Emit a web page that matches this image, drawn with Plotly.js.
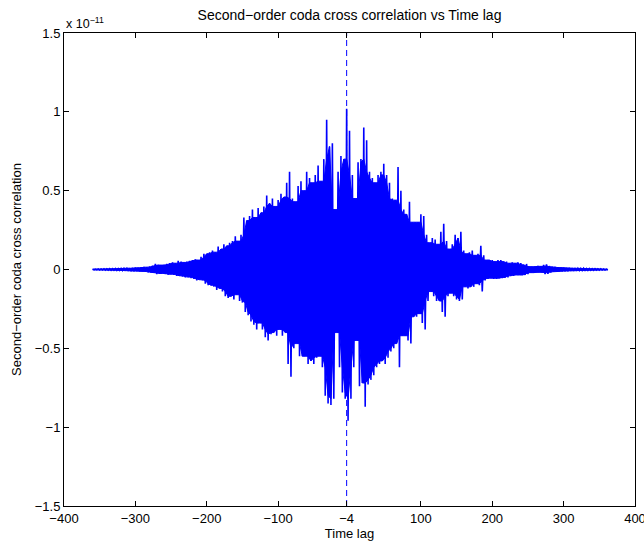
<!DOCTYPE html>
<html>
<head>
<meta charset="utf-8">
<script src="https://cdn.plot.ly/plotly-3.0.1.min.js"></script>
<style>html,body{margin:0;padding:0;background:#fff;}#chart{width:644px;height:542px;}</style>
</head>
<body>
<div id="chart"></div>
<script>
// Time lags of the envelope readings (every 4 lag units, -360 .. 360)
const lagStart = -360;
const lagStep = 4;
// Positive peaks (units of 1e-11)
const upperPeaks = [
  0.002,0.002,0.003,0.003,0.004,0.004,0.005,0.005,0.006,0.006,
  0.007,0.008,0.010,0.008,0.010,0.012,0.011,0.014,0.016,0.015,
  0.020,0.025,0.035,0.030,0.028,0.030,0.035,0.040,0.045,0.040,
  0.055,0.050,0.045,0.050,0.055,0.060,0.065,0.060,0.080,0.100,
  0.100,0.110,0.120,0.110,0.145,0.130,0.160,0.150,0.170,0.180,
  0.210,0.180,0.220,0.330,0.310,0.340,0.380,0.330,0.390,0.360,
  0.400,0.470,0.420,0.450,0.400,0.440,0.480,0.460,0.550,0.620,
  0.450,0.430,0.530,0.560,0.500,0.620,0.580,0.550,0.600,0.660,
  0.560,0.700,0.950,0.780,0.800,0.380,0.620,0.720,0.700,1.020,
  0.880,0.600,0.450,0.680,0.700,0.900,0.820,0.620,0.580,0.550,
  0.600,0.620,0.670,0.600,0.550,0.450,0.440,0.650,0.500,0.380,
  0.350,0.430,0.300,0.300,0.300,0.350,0.340,0.220,0.170,0.200,
  0.190,0.160,0.240,0.290,0.180,0.130,0.160,0.220,0.200,0.240,
  0.120,0.100,0.110,0.120,0.090,0.100,0.150,0.090,0.060,0.060,
  0.060,0.050,0.060,0.060,0.050,0.050,0.040,0.045,0.040,0.045,
  0.040,0.030,0.035,0.020,0.018,0.020,0.022,0.020,0.030,0.033,
  0.022,0.018,0.016,0.015,0.012,0.012,0.011,0.010,0.009,0.008,
  0.008,0.007,0.008,0.006,0.006,0.005,0.005,0.004,0.004,0.003,
  0.002
];
// Negative peaks (units of 1e-11)
const lowerPeaks = [
  -0.002,-0.002,-0.003,-0.003,-0.004,-0.004,-0.005,-0.005,-0.006,-0.006,
  -0.007,-0.008,-0.009,-0.010,-0.010,-0.011,-0.013,-0.012,-0.015,-0.018,
  -0.020,-0.022,-0.030,-0.028,-0.025,-0.030,-0.032,-0.030,-0.035,-0.040,
  -0.040,-0.045,-0.050,-0.048,-0.055,-0.060,-0.070,-0.065,-0.070,-0.090,
  -0.100,-0.100,-0.110,-0.130,-0.120,-0.140,-0.170,-0.180,-0.170,-0.190,
  -0.160,-0.200,-0.210,-0.270,-0.290,-0.330,-0.350,-0.380,-0.340,-0.380,
  -0.430,-0.450,-0.410,-0.400,-0.420,-0.380,-0.420,-0.400,-0.600,-0.680,
  -0.500,-0.470,-0.550,-0.550,-0.550,-0.600,-0.580,-0.600,-0.560,-0.550,
  -0.620,-0.800,-0.850,-0.860,-0.820,-0.400,-0.620,-0.780,-0.820,-0.960,
  -0.820,-0.620,-0.450,-0.740,-0.720,-0.870,-0.730,-0.700,-0.670,-0.620,
  -0.600,-0.580,-0.600,-0.560,-0.520,-0.500,-0.470,-0.620,-0.420,-0.420,
  -0.450,-0.470,-0.300,-0.300,-0.280,-0.340,-0.380,-0.200,-0.140,-0.170,
  -0.200,-0.200,-0.270,-0.300,-0.170,-0.150,-0.170,-0.190,-0.200,-0.190,
  -0.110,-0.120,-0.110,-0.110,-0.090,-0.100,-0.140,-0.070,-0.060,-0.055,
  -0.060,-0.060,-0.055,-0.055,-0.050,-0.050,-0.040,-0.040,-0.035,-0.035,
  -0.035,-0.035,-0.030,-0.020,-0.020,-0.020,-0.018,-0.020,-0.030,-0.028,
  -0.020,-0.015,-0.014,-0.013,-0.012,-0.010,-0.010,-0.009,-0.008,-0.008,
  -0.007,-0.006,-0.006,-0.006,-0.005,-0.005,-0.004,-0.004,-0.003,-0.003,
  -0.002
];
const markerLag = -4;
const xTickVals = [-400,-300,-200,-100,-4,100,200,300,400];
const xTickText = ["\u2212400","\u2212300","\u2212200","\u2212100","\u22124","100","200","300","400"];
const yTickVals = [-1.5,-1,-0.5,0,0.5,1,1.5];
const yTickText = ["\u22121.5","\u22121","\u22120.5","0","0.5","1","1.5"];

// Oscillating trace: each reading gives a positive peak followed by a negative peak
const sigX = [], sigY = [];
for (let i = 0; i < upperPeaks.length; i++) {
  const lag = lagStart + i * lagStep;
  sigX.push(lag); sigY.push(upperPeaks[i]);
  sigX.push(lag + lagStep / 2); sigY.push(lowerPeaks[i]);
}
// Solid core of the dense oscillation: bounded by the smaller of neighbouring peaks
const coreX = [], coreY = [];
const n = upperPeaks.length;
for (let i = 0; i < n; i++) {
  const a = upperPeaks[Math.max(0, i - 1)], b = upperPeaks[i], c = upperPeaks[Math.min(n - 1, i + 1)];
  coreX.push(lagStart + i * lagStep); coreY.push(Math.min(a, b, c));
}
for (let i = n - 1; i >= 0; i--) {
  const a = lowerPeaks[Math.max(0, i - 1)], b = lowerPeaks[i], c = lowerPeaks[Math.min(n - 1, i + 1)];
  coreX.push(lagStart + i * lagStep + lagStep / 2); coreY.push(Math.max(a, b, c));
}

const fam = 'Liberation Sans, Arial, Helvetica, sans-serif';
const tickFont = {family: fam, size: 13, color: '#000'};
const labFont = {family: fam, size: 13, color: '#000'};

const traces = [
  {x: coreX, y: coreY, type: 'scatter', mode: 'lines', fill: 'toself', fillcolor: '#0000ff',
   line: {color: '#0000ff', width: 1, simplify: false}, hoverinfo: 'skip'},
  {x: sigX, y: sigY, type: 'scatter', mode: 'lines', line: {color: '#0000ff', width: 1.6, simplify: false}, hoverinfo: 'skip'},
  {x: [markerLag, markerLag], y: [yTickVals[0], yTickVals[yTickVals.length-1]], type: 'scatter', mode: 'lines',
   line: {color: '#0000ff', width: 1, dash: '6px,4px'}, hoverinfo: 'skip'}
];

const layout = {
  width: 644, height: 542,
  margin: {l: 64, r: 9, t: 33, b: 36},
  paper_bgcolor: '#fff', plot_bgcolor: '#fff',
  showlegend: false,
  font: {family: fam, size: 13, color: '#000'},
  title: {text: 'Second\u2212order coda cross correlation vs Time lag', font: {family: fam, size: 14, color: '#000'},
          x: 0.5, xref: 'paper', y: 1, yref: 'container', yanchor: 'top', pad: {t: 10}},
  xaxis: {
    range: [-400, 400], tickvals: xTickVals, ticktext: xTickText,
    ticks: 'inside', ticklen: 5, tickcolor: '#000', tickwidth: 1,
    showline: true, linecolor: '#000', linewidth: 1, mirror: 'allticks',
    showgrid: false, zeroline: false, ticklabeloverflow: 'allow',
    tickfont: tickFont,
    title: {text: 'Time lag', font: labFont, standoff: 2}
  },
  yaxis: {
    range: [-1.5, 1.5], tickvals: yTickVals, ticktext: yTickText,
    ticks: 'inside', ticklen: 5, tickcolor: '#000', tickwidth: 1,
    showline: true, linecolor: '#000', linewidth: 1, mirror: 'allticks',
    showgrid: false, zeroline: false, ticklabeloverflow: 'allow',
    tickfont: tickFont,
    title: {text: 'Second\u2212order coda cross correlation', font: labFont, standoff: 10}
  },
  annotations: [
    {text: 'x 10<sup>\u221211</sup>', xref: 'paper', yref: 'paper', x: 0, y: 1, xanchor: 'left', yanchor: 'bottom',
     showarrow: false, font: {family: fam, size: 12.5, color: '#000'}}
  ]
};

Plotly.newPlot('chart', traces, layout, {staticPlot: true, displayModeBar: false});
</script>
</body>
</html>
